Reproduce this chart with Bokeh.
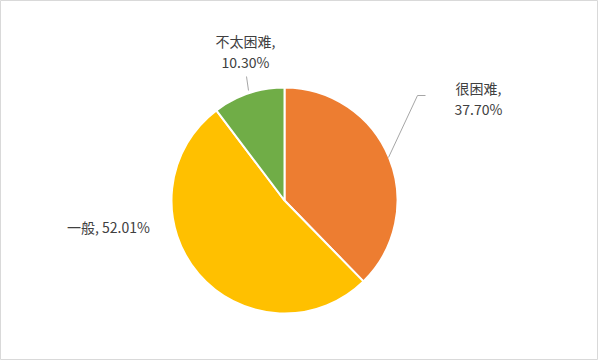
import math
from bokeh.plotting import figure
from bokeh.models import Range1d, ColumnDataSource
from bokeh.core.properties import value
from bokeh.embed import file_html
from bokeh.resources import INLINE

categories = ["很困难", "一般", "不太困难"]
shares = [37.70, 52.01, 10.30]
colors = ["#ED7D31", "#FFC000", "#70AD47"]

W, H = 598, 360
OX, OY = 0, 0


def px(x):
    return x - OX


def py(y):
    return H - (y - OY)


p = figure(width=W, height=H, output_backend="svg", toolbar_location=None,
           x_range=Range1d(0, W), y_range=Range1d(0, H),
           min_border=0)
p.axis.visible = False
p.grid.visible = False
p.outline_line_color = "#D9D9D9"
p.outline_line_width = 1
p.background_fill_color = "white"

cx, cy, r = px(284), py(200), 113
total = sum(shares)
starts, ends = [], []
a = 90.0
for s in shares:
    d = s / total * 360.0
    starts.append(math.radians(a - d))
    ends.append(math.radians(a))
    a -= d

src = ColumnDataSource(dict(start=starts, end=ends, color=colors))
p.wedge(x=cx, y=cy, radius=r, start_angle="start", end_angle="end",
        fill_color="color", line_color="white", line_width=2, source=src)

# leader lines
p.line([px(425), px(417), px(388)], [py(95), py(95), py(157)],
       line_color="#A6A6A6", line_width=1)
p.line([px(246), px(248)], [py(76), py(90)], line_color="#A6A6A6", line_width=1)

font = value("Noto Sans CJK SC")
tc = "#404040"
fs = "14px"

lab = {
    0: (478, [87, 108]),
    2: (245, [40, 61]),
}
for i, (x, ys) in lab.items():
    lines = [f"{categories[i]},", f"{shares[i]:.2f}%"]
    p.text(x=[px(x)] * 2, y=[py(y) for y in ys], text=lines,
           text_font=font, text_font_size=fs, text_color=tc,
           text_align="center", text_baseline="middle")

p.text(x=[px(108)], y=[py(226)], text=[f"{categories[1]}, {shares[1]:.2f}%"],
       text_font=font, text_font_size=fs, text_color=tc,
       text_align="center", text_baseline="middle")

open("out.html", "w").write(file_html(p, INLINE))
